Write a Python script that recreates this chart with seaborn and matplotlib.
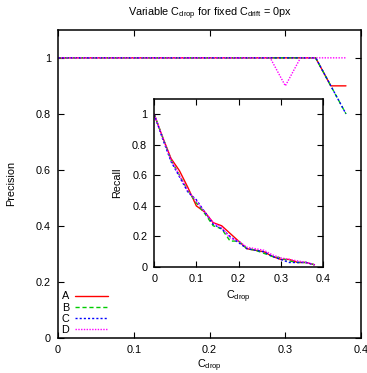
import matplotlib
matplotlib.use("Agg")
import matplotlib.pyplot as plt
import seaborn as sns

# datos
c_drop = [0.00, 0.02, 0.04, 0.06, 0.08, 0.10, 0.12, 0.14, 0.16, 0.18,
          0.20, 0.22, 0.24, 0.26, 0.28, 0.30, 0.32, 0.34, 0.36, 0.38]

precision_a = [1, 1, 1, 1, 1, 1, 1, 1, 1, 1, 1, 1, 1, 1, 1, 1, 1, 1, 0.9, 0.9]
precision_b = [1, 1, 1, 1, 1, 1, 1, 1, 1, 1, 1, 1, 1, 1, 1, 1, 1, 1, 0.9, 0.8]
precision_c = [1, 1, 1, 1, 1, 1, 1, 1, 1, 1, 1, 1, 1, 1, 1, 1, 1, 1, 0.9, 0.8]
precision_d = [1, 1, 1, 1, 1, 1, 1, 1, 1, 1, 1, 1, 1, 1, 1, 0.9, 1, 1, 1, 1]

recall_a = [1.0, 0.85, 0.71, 0.63, 0.52, 0.40, 0.36, 0.29, 0.27, 0.22,
            0.17, 0.12, 0.11, 0.10, 0.07, 0.05, 0.05, 0.03, 0.03, 0.015]
recall_b = [1.0, 0.85, 0.70, 0.60, 0.50, 0.42, 0.35, 0.27, 0.25, 0.17,
            0.17, 0.12, 0.11, 0.09, 0.07, 0.06, 0.04, 0.03, 0.03, 0.015]
recall_c = [1.0, 0.84, 0.69, 0.59, 0.49, 0.44, 0.36, 0.28, 0.25, 0.20,
            0.16, 0.12, 0.11, 0.10, 0.07, 0.05, 0.03, 0.03, 0.03, 0.015]
recall_d = [1.0, 0.85, 0.70, 0.60, 0.50, 0.43, 0.36, 0.29, 0.26, 0.19,
            0.17, 0.13, 0.12, 0.11, 0.08, 0.06, 0.05, 0.04, 0.03, 0.015]

etiquetas = ["A", "B", "C", "D"]
colores = ["#ff0000", "#00cc00", "#0000ff", "#ff00ff"]
estilos = ["-", (0, (3, 2)), (0, (1.5, 1.5)), (0, (1, 1))]

sns.set_style("ticks")
plt.rcParams["font.family"] = ["Liberation Sans", "DejaVu Sans"]
plt.rcParams["font.size"] = 7.8
plt.rcParams["mathtext.fontset"] = "custom"
plt.rcParams["mathtext.rm"] = "Liberation Sans"
plt.rcParams["mathtext.it"] = "Liberation Sans"
plt.rcParams["text.color"] = "black"
plt.rcParams["axes.labelcolor"] = "black"
plt.rcParams["xtick.color"] = "black"
plt.rcParams["ytick.color"] = "black"

fs = 7.8

fig = plt.figure(figsize=(3.67, 3.73), dpi=100)
ax = fig.add_axes([0.158, 0.094, 0.826, 0.826])
ins = fig.add_axes([0.420, 0.284, 0.460, 0.451])


def estilo_gnuplot(eje):
    for s in eje.spines.values():
        s.set_visible(True)
        s.set_linewidth(1.1)
        s.set_color("black")
    eje.tick_params(direction="in", top=True, right=True, length=4, width=0.8,
                    labelsize=fs, pad=5, colors="black")
    eje.set_xlim(0, 0.4)
    eje.set_ylim(0, 1.1)
    eje.set_xticks([0, 0.1, 0.2, 0.3, 0.4])
    eje.set_xticklabels(["0", "0.1", "0.2", "0.3", "0.4"])
    eje.set_yticks([0, 0.2, 0.4, 0.6, 0.8, 1.0])
    eje.set_yticklabels(["0", "0.2", "0.4", "0.6", "0.8", "1"])


precisiones = [precision_a, precision_b, precision_c, precision_d]
recalls = [recall_a, recall_b, recall_c, recall_d]

for i in range(4):
    sns.lineplot(x=c_drop, y=precisiones[i], ax=ax, color=colores[i],
                 linestyle=estilos[i], linewidth=1.0, label=etiquetas[i])
    sns.lineplot(x=c_drop, y=recalls[i], ax=ins, color=colores[i],
                 linestyle=estilos[i], linewidth=1.0, legend=False)

estilo_gnuplot(ax)
estilo_gnuplot(ins)

ax.set_title(r"Variable C$_{\mathrm{drop}}$ for fixed C$_{\mathrm{drift}}$ = 0px",
             fontsize=fs, pad=10, color="black")
ax.set_xlabel(r"C$_{\mathrm{drop}}$", fontsize=fs, labelpad=2)
ax.set_ylabel("Precision", fontsize=fs, labelpad=14)
ins.set_xlabel(r"C$_{\mathrm{drop}}$", fontsize=fs, labelpad=3)
ins.set_ylabel("Recall", fontsize=fs, labelpad=7)

ax.legend(loc="lower left", frameon=False, markerfirst=False, handlelength=3.0,
          handletextpad=0.6, labelspacing=0.1, fontsize=fs,
          borderaxespad=0.0, borderpad=0.3)

fig.savefig("out.png", dpi=100)
